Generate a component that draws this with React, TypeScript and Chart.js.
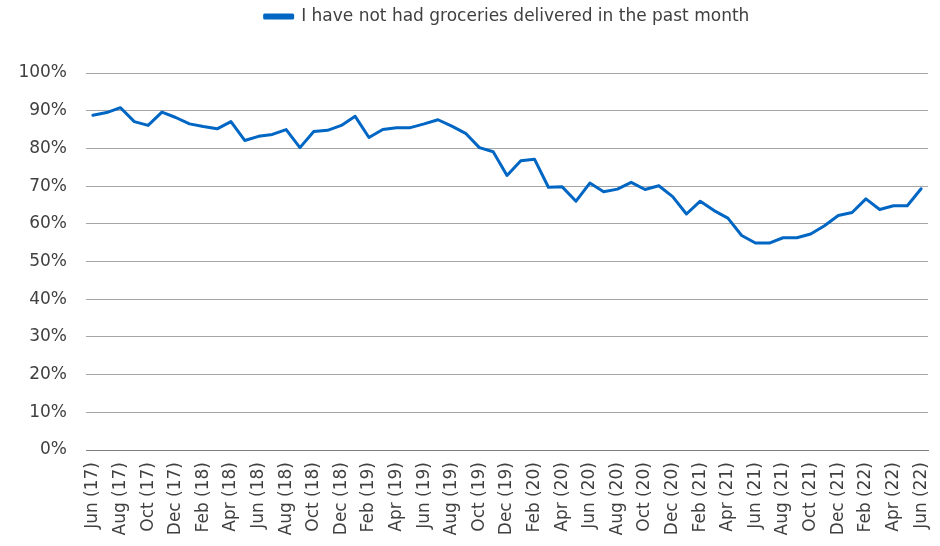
import React, { useEffect, useRef } from "react";
import { Chart, registerables } from "chart.js";

Chart.register(...registerables);

const categories: string[] = [
  "Jun (17)", "Jul (17)", "Aug (17)", "Sep (17)", "Oct (17)", "Nov (17)", "Dec (17)",
  "Jan (18)", "Feb (18)", "Mar (18)", "Apr (18)", "May (18)", "Jun (18)", "Jul (18)", "Aug (18)", "Sep (18)", "Oct (18)", "Nov (18)", "Dec (18)",
  "Jan (19)", "Feb (19)", "Mar (19)", "Apr (19)", "May (19)", "Jun (19)", "Jul (19)", "Aug (19)", "Sep (19)", "Oct (19)", "Nov (19)", "Dec (19)",
  "Jan (20)", "Feb (20)", "Mar (20)", "Apr (20)", "May (20)", "Jun (20)", "Jul (20)", "Aug (20)", "Sep (20)", "Oct (20)", "Nov (20)", "Dec (20)",
  "Jan (21)", "Feb (21)", "Mar (21)", "Apr (21)", "May (21)", "Jun (21)", "Jul (21)", "Aug (21)", "Sep (21)", "Oct (21)", "Nov (21)", "Dec (21)",
  "Jan (22)", "Feb (22)", "Mar (22)", "Apr (22)", "May (22)", "Jun (22)",
];

const seriesName = "I have not had groceries delivered in the past month";

const notDelivered: number[] = [
  88.8, 89.5, 90.8, 87.1, 86.1, 89.6, 88.2,
  86.5, 85.8, 85.2, 87.1, 82.1, 83.2, 83.7, 85.0, 80.2, 84.5, 84.8, 86.1,
  88.5, 82.9, 85.0, 85.5, 85.5, 86.5, 87.6, 85.9, 84.0, 80.2, 79.1, 72.8,
  76.7, 77.1, 69.7, 69.8, 66.0, 70.8, 68.5, 69.2, 71.0, 69.1, 70.1, 67.2,
  62.6, 66.0, 63.5, 61.5, 56.9, 54.9, 54.9, 56.3, 56.3, 57.3, 59.5, 62.2,
  63.0, 66.6, 63.8, 64.8, 64.8, 69.3,
];

const yTicks: number[] = [0, 10, 20, 30, 40, 50, 60, 70, 80, 90, 100];

const FONT = "'DejaVu Sans', Verdana, sans-serif";
const TEXT = "#404040";
const BLUE = "#0066c4";

const legendSpacer = {
  id: "legendSpacer",
  beforeUpdate(chart: any) {
    const lg = chart.legend;
    if (lg && !lg._spacerPatched) {
      lg._spacerPatched = true;
      const origFit = lg.fit.bind(lg);
      lg.fit = function () {
        origFit();
        this.height += 38;
      };
    }
  },
};

export default function App() {
  const ref = useRef<HTMLCanvasElement | null>(null);

  useEffect(() => {
    document.body.style.margin = "0";
    const canvas = ref.current;
    if (!canvas) return;
    const chart = new Chart(canvas, {
      type: "line",
      data: {
        labels: categories,
        datasets: [
          {
            label: seriesName,
            data: notDelivered,
            borderColor: BLUE,
            backgroundColor: BLUE,
            borderWidth: 3,
            pointRadius: 0,
            tension: 0,
            borderJoinStyle: "round",
            borderCapStyle: "round",
          },
        ],
      },
      plugins: [legendSpacer],
      options: {
        responsive: false,
        animation: false,
        layout: { padding: { left: 0, right: 12, top: 0, bottom: 0 } },
        plugins: {
          tooltip: { enabled: false },
          legend: {
            position: "top",
            fullSize: false,
            labels: {
              boxWidth: 28,
              boxHeight: 3,
              padding: 8,
              color: TEXT,
              font: { family: FONT, size: 17 },
            },
          },
        },
        scales: {
          x: {
            offset: true,
            grid: { display: false, drawTicks: false },
            border: { display: true, color: "#7f7f7f", width: 1 },
            ticks: {
              autoSkip: false,
              maxRotation: 90,
              minRotation: 90,
              padding: 12,
              color: TEXT,
              font: { family: FONT, size: 17 },
              callback: (_v: any, i: number) => (i % 2 === 0 ? categories[i] : ""),
            },
            afterFit: (scale: any) => {
              scale.height = 96;
              scale.paddingLeft = 0;
              scale.paddingRight = 0;
            },
          },
          y: {
            min: 0,
            max: 100,
            afterBuildTicks: (scale: any) => {
              scale.ticks = yTicks.map((v) => ({ value: v }));
            },
            grid: {
              color: (ctx: any) => (ctx.tick && ctx.tick.value === 0 ? "#7f7f7f" : "#a6a6a6"),
              lineWidth: 1,
              drawTicks: false,
            },
            border: { display: false },
            ticks: {
              padding: 19,
              color: TEXT,
              font: { family: FONT, size: 17 },
              callback: (v: any) => v + "%",
            },
            afterFit: (scale: any) => {
              scale.width = 86;
              scale.paddingTop = 0;
              scale.paddingBottom = 0;
            },
          },
        },
      },
    });
    return () => chart.destroy();
  }, []);

  return (
    <div style={{ position: "absolute", left: 0, top: 0, width: 940, height: 546 }}>
      <canvas ref={ref} width={940} height={546} />
    </div>
  );
}
